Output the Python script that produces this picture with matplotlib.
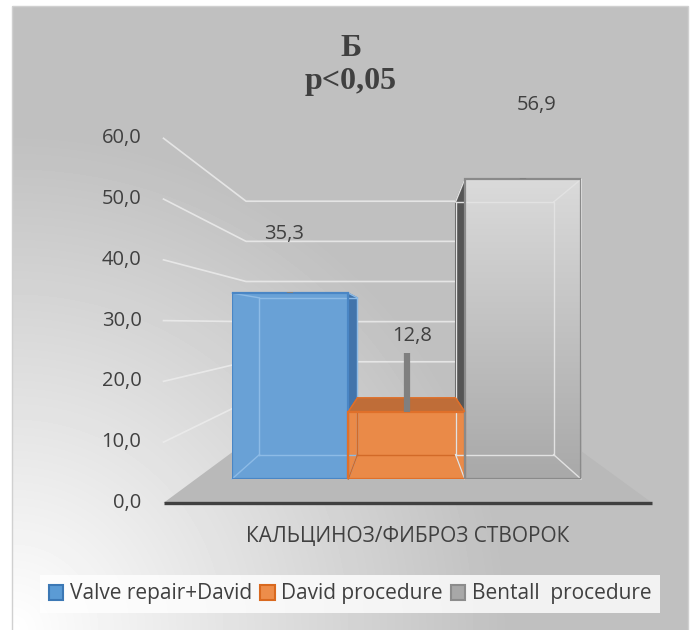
import numpy as np
import matplotlib
matplotlib.use('Agg')
import matplotlib.pyplot as plt
from matplotlib.patches import Polygon, Patch, Rectangle

plt.rcParams['font.family'] = ['Open Sans', 'DejaVu Sans']

# data
groups = ['Valve repair+David', 'David procedure', 'Bentall  procedure']
values = [35.3, 12.8, 56.9]
errors = [0.3, 11.1, 0.3]
value_labels = ['35,3', '12,8', '56,9']
yticks = [0, 10, 20, 30, 40, 50, 60]
ytick_labels = ['0,0', '10,0', '20,0', '30,0', '40,0', '50,0', '60,0']
category = 'КАЛЬЦИНОЗ/ФИБРОЗ СТВОРОК'
title_lines = ['Б', 'p<0,05']

# styles
face = ['#69a1d6', '#ea8a48', '#c8c8c8']
edge = ['#4a86c5', '#e0702a', '#8a8a8a']
side = ['#4274ab', '#bf6d38', '#555555']
inner = ['#8dbbe6', '#d26a28', '#e2e2e2']
leg_face = ['#5b9bd5', '#ed8d4a', '#a8a8a8']
leg_edge = ['#3c78b5', '#d9691f', '#8c8c8c']
label_off = [(-6, 59), (6, 76), (14, 74)]  # pixels, label relative to bar top
txt = '#404040'

W, H = 695, 630
fig = plt.figure(figsize=(W / 100, H / 100), dpi=100)

# background with gradient
bg = fig.add_axes([0, 0, 1, 1])
bg.set_xlim(0, W)
bg.set_ylim(H, 0)
bg.axis('off')
fx0, fx1, fy0, fy1 = 12, 688, 6, H
yy, xx = np.mgrid[fy0:fy1, fx0:fx1]
t = np.clip(np.hypot(xx - fx0, yy - H) / 500.0, 0, 1)
bg.imshow(1 - 0.25 * t, cmap='gray', vmin=0, vmax=1, extent=(fx0, fx1, fy1, fy0),
          aspect='auto', interpolation='bilinear')
bg.add_patch(Rectangle((fx0, fy0), fx1 - fx0, fy1 - fy0 + 2, fill=False,
                       edgecolor='#d0d0d0', lw=1))
bg.set_xlim(0, W)
bg.set_ylim(H, 0)

# bars axes
ax = fig.add_axes([232 / W, (H - 479) / H, 349 / W, 316 / H])
ax.axis('off')

VX, VY = 1.0, 29.5
K_BAR, K_WALL, K_FRONT = 0.843, 0.762, 1.154
XL, XR = -0.81, 2.83

def proj(x, y, k):
    return (VX + k * (x - VX), VY + k * (y - VY))

# floor
floor = [proj(XL, 0, K_FRONT), proj(XR, 0, K_FRONT), proj(XR, 0, K_WALL), proj(XL, 0, K_WALL)]
ax.add_patch(Polygon(floor, closed=True, facecolor='#b9b9b9', edgecolor='none',
                     zorder=1, clip_on=False))

# gridlines on side wall and back wall
for v in yticks[1:]:
    pts = [proj(XL, v, K_FRONT), proj(XL, v, K_WALL), proj(XR, v, K_WALL)]
    ax.plot([p[0] for p in pts], [p[1] for p in pts], color='#ececec', lw=1.2,
            alpha=0.85, zorder=1.5, clip_on=False)

# axis line
a0, a1 = proj(XL, 0, K_FRONT), proj(XR, 0, K_FRONT)
ax.plot([a0[0], a1[0]], [a0[1], a1[1]], color='#404040', lw=2.4,
        solid_capstyle='butt', zorder=2, clip_on=False)

# tick labels
for v, lab in zip(yticks, ytick_labels):
    ax.annotate(lab, proj(XL, v, K_FRONT), xytext=(-22, 0), textcoords='offset pixels',
                ha='right', va='center', fontsize=14.5, color=txt, annotation_clip=False)

x = np.arange(len(values))

# side faces
for i, v in enumerate(values):
    x0, x1 = i - 0.5, i + 0.5
    if x1 <= VX:
        sx = x1
    elif x0 >= VX:
        sx = x0
    else:
        continue
    poly = [proj(sx, 0, 1), proj(sx, v, 1), proj(sx, v, K_BAR), proj(sx, 0, K_BAR)]
    ax.add_patch(Polygon(poly, closed=True, facecolor=side[i], edgecolor=side[i],
                         lw=0.8, zorder=2.5, clip_on=False))

# front faces
bars = ax.bar(x, values, width=1.0, color=face, edgecolor='none', zorder=3)
grad = np.linspace(0, 1, 100).reshape(-1, 1)
im = ax.imshow(grad, cmap=matplotlib.colors.LinearSegmentedColormap.from_list(
    'g', ['#a9a9a9', '#dadada']), extent=(1.5, 2.5, 0, values[2]), origin='lower',
    aspect='auto', zorder=3.05)
im.set_clip_path(bars[2])

# inner (see-through) edges
for i, v in enumerate(values):
    x0, x1 = i - 0.5, i + 0.5
    corners = [(x0, 0), (x1, 0), (x1, v), (x0, v)]
    back = [proj(cx, cy, K_BAR) for cx, cy in corners]
    bx = [p[0] for p in back] + [back[0][0]]
    by = [p[1] for p in back] + [back[0][1]]
    ax.plot(bx, by, color=inner[i], lw=1.0, zorder=3.2, clip_on=False)
    for (cx, cy), (bx_, by_) in zip(corners, back):
        ax.plot([cx, bx_], [cy, by_], color=inner[i], lw=1.0, zorder=3.2, clip_on=False)

ax.bar(x, values, width=1.0, fill=False, edgecolor=edge, lw=1.6, zorder=4)

# top faces (visible when below eye level)
for i, v in enumerate(values):
    if v < VY:
        x0, x1 = i - 0.5, i + 0.5
        poly = [proj(x0, v, 1), proj(x1, v, 1), proj(x1, v, K_BAR), proj(x0, v, K_BAR)]
        ax.add_patch(Polygon(poly, closed=True, facecolor=side[i], edgecolor=edge[i],
                             lw=1.0, zorder=4.5, clip_on=False))

# error bars
ax.errorbar(x, values, yerr=[[0] * len(errors), errors], fmt='none', ecolor='#7f7f7f',
            elinewidth=4.5, capsize=0, zorder=5)

# value labels
for i, (v, lab) in enumerate(zip(values, value_labels)):
    ax.annotate(lab, (i, v), xytext=label_off[i], textcoords='offset pixels',
                ha='center', va='center', fontsize=14.5, color=txt, annotation_clip=False)

# category label
ax.annotate(category, proj((XL + XR) / 2, 0, K_FRONT), xytext=(0, -34),
            textcoords='offset pixels', ha='center', va='center', fontsize=15,
            color=txt, annotation_clip=False)

ax.set_xlim(-0.5, 2.5)
ax.set_ylim(0, 60)

# title
fig.text(351 / W, 1 - 48 / H, title_lines[0], ha='center', va='center',
         family='Liberation Serif', weight='bold', fontsize=23, color=txt)
fig.text(351 / W, 1 - 82 / H, title_lines[1], ha='center', va='center',
         family='Liberation Serif', weight='bold', fontsize=23, color=txt)

# legend
handles = [Patch(facecolor=leg_face[i], edgecolor=leg_edge[i], lw=1.5) for i in range(3)]
leg = fig.legend(handles, groups, loc='center', bbox_to_anchor=(350 / W, 1 - 594 / H),
                 ncol=3, fontsize=15, handlelength=0.7, handleheight=0.7,
                 handletextpad=0.3, columnspacing=0.4, borderpad=0.4,
                 fancybox=False, labelcolor=txt)
leg.get_frame().set_facecolor((1, 1, 1, 0.35))
leg.get_frame().set_edgecolor('none')

fig.savefig('out.png', dpi=100)
